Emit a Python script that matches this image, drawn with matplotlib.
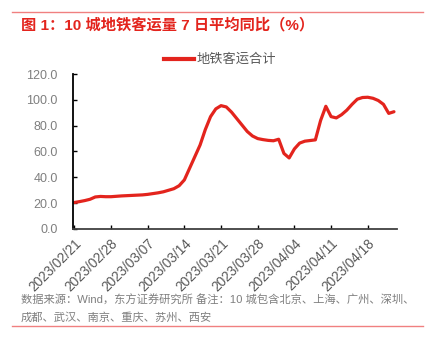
import matplotlib
matplotlib.use('Agg')
import matplotlib.pyplot as plt
import matplotlib.dates as mdates
from matplotlib.lines import Line2D
import numpy as np
import pandas as pd

plt.rcParams['font.family'] = ['Liberation Sans', 'Noto Sans CJK SC', 'DejaVu Sans']

# daily 7-day average YoY of metro ridership, 10 cities (%)
dates = pd.date_range('2023-02-21', periods=62, freq='D')
ridership_yoy = [
    20.5, 21.2, 22.0, 23.0, 24.8, 25.2, 25.0, 25.0, 25.3, 25.6,
    25.8, 26.0, 26.2, 26.4, 26.8, 27.4, 28.0, 28.8, 30.0, 31.2,
    33.5, 38.0, 47.0, 56.0, 65.0, 77.0, 87.0, 93.0, 95.5, 94.5,
    90.5, 85.5, 80.5, 75.5, 72.0, 70.0, 69.2, 68.6, 68.3, 69.5,
    58.5, 55.0, 62.0, 66.5, 68.0, 68.5, 69.0, 84.0, 95.0, 87.0,
    86.0, 88.5, 92.0, 96.5, 100.5, 101.8, 102.0, 101.2, 99.5, 96.5,
    89.5, 90.8,
]
tick_dates = pd.date_range('2023-02-21', periods=9, freq='7D')
yticks = [0, 20, 40, 60, 80, 100, 120]

red = '#E3241D'
gray = '#7F7F7F'

fig = plt.figure(figsize=(4.33, 3.46), dpi=100)
ax = fig.add_axes([0.1686, 0.3382, 0.7483, 0.4479])

ax.plot(dates, ridership_yoy, color=red, lw=2.3, solid_capstyle='round')

ax.set_ylim(0, 120)
ax.set_yticks(yticks)
ax.set_yticklabels([f'{v:.1f}' for v in yticks], color=gray, fontsize=9)
ax.set_xlim(dates[0] - pd.Timedelta(hours=6), dates[-1] + pd.Timedelta(hours=14))
ax.set_xticks(tick_dates)
ax.xaxis.set_major_formatter(mdates.DateFormatter('%Y/%m/%d'))
plt.setp(ax.get_xticklabels(), rotation=45, ha='right', rotation_mode='anchor',
         color='#595959', fontsize=9.8)
ax.tick_params(axis='both', direction='in', length=3, width=1, color='black')
ax.tick_params(axis='y', pad=11)
ax.tick_params(axis='x', pad=5)

for s in ['top', 'right']:
    ax.spines[s].set_visible(False)
ax.spines['left'].set_linewidth(1.3)
ax.spines['bottom'].set_linewidth(1.3)
ax.spines['bottom'].set_color('#404040')

# legend above the plot
leg = ax.legend([Line2D([0], [0], color=red, lw=3)], ['地铁客运合计'],
                loc='center', bbox_to_anchor=(0.454, 1.09), frameon=False,
                handlelength=2.3, handletextpad=0.2, fontsize=9.5,
                borderpad=0, borderaxespad=0)
for t in leg.get_texts():
    t.set_color('#595959')

# header rule and title
fig.add_artist(Line2D([12 / 433, 423 / 433], [1 - 12 / 346, 1 - 12 / 346],
                      color='#F08080', lw=1))
fig.text(21 / 433, 1 - 25 / 346, '图 1：10 城地铁客运量 7 日平均同比（%）',
         color=red, fontsize=11, fontweight='bold', va='center', ha='left')

# source note and footer rule
fig.text(21 / 433, 1 - 300 / 346,
         '数据来源：Wind，东方证券研究所 备注：10 城包含北京、上海、广州、深圳、',
         color=gray, fontsize=8.1, va='center', ha='left')
fig.text(21 / 433, 1 - 317 / 346, '成都、武汉、南京、重庆、苏州、西安',
         color=gray, fontsize=8.1, va='center', ha='left')
fig.add_artist(Line2D([12 / 433, 423 / 433], [1 - 326 / 346, 1 - 326 / 346],
                      color='#F08080', lw=1))

fig.savefig('out.png', dpi=100)
